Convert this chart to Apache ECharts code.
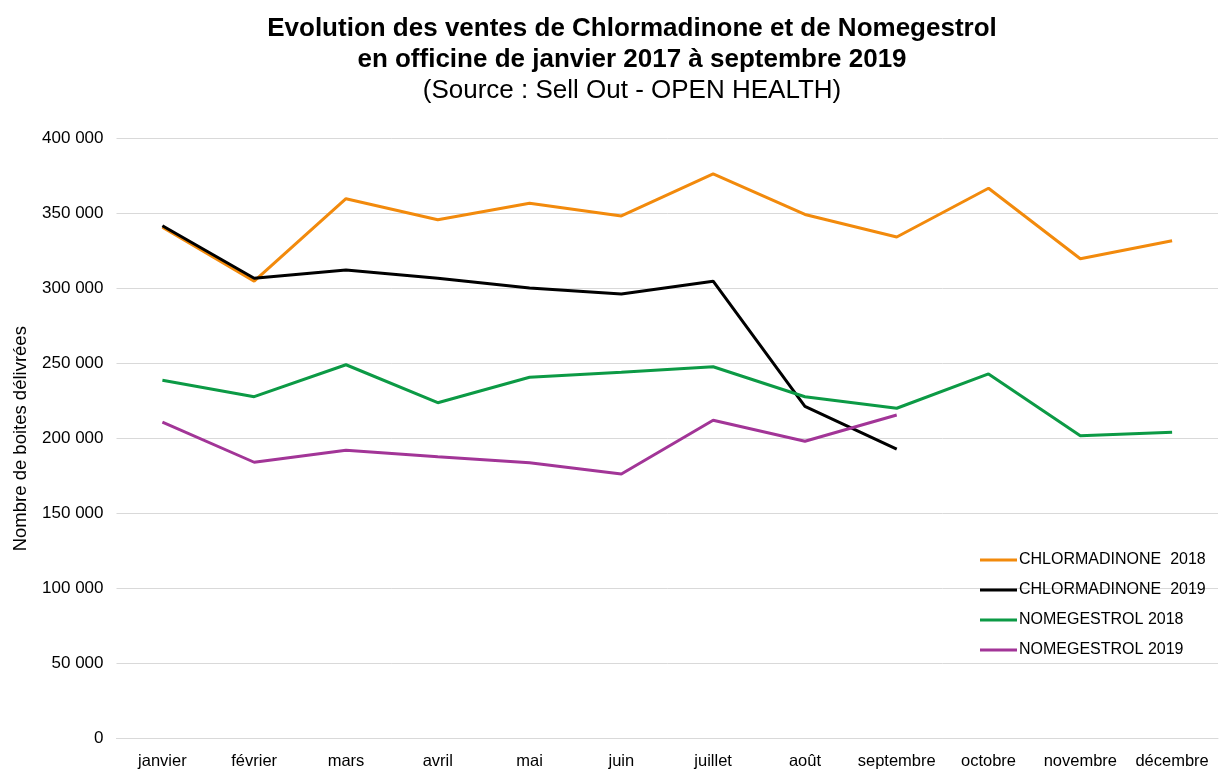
<!DOCTYPE html>
<html>
<head>
<meta charset="utf-8">
<script src="https://cdn.jsdelivr.net/npm/echarts@6/dist/echarts.min.js"></script>
<style>
  html, body { margin: 0; padding: 0; background: #fff; }
  #chart { width: 1221px; height: 769px; }
</style>
</head>
<body>
<div id="chart"></div>
<script>
// mois (axe des abscisses)
const months = ['janvier', 'février', 'mars', 'avril', 'mai', 'juin', 'juillet', 'août', 'septembre', 'octobre', 'novembre', 'décembre']

// ventes en boites délivrées
const chlormadinone2018 = [341000, 305000, 360000, 346000, 357000, 348500, 376500, 349500, 334500, 367000, 320000, 332000]
const chlormadinone2019 = [342000, 307000, 312500, 307000, 300500, 296500, 305000, 221500, 193000]
const nomegestrol2018 = [239000, 228000, 249300, 224000, 241000, 244300, 248000, 228000, 220300, 243200, 202000, 204300]
const nomegestrol2019 = [211000, 184300, 192300, 188000, 184000, 176500, 212300, 198300, 215800]

const chart = echarts.init(document.getElementById('chart'))

const fontFamily = '"Liberation Sans", Arial, sans-serif'

const makeLine = (name, data, color) => ({
  name,
  type: 'line',
  data,
  symbol: 'none',
  lineStyle: { color, width: 3 },
  itemStyle: { color },
  emphasis: { disabled: true }
})

const option = {
  animation: false,
  textStyle: { fontFamily },
  title: {
    text: 'Evolution des ventes de Chlormadinone et de Nomegestrol\nen officine de janvier 2017 à septembre 2019',
    subtext: '(Source : Sell Out - OPEN HEALTH)',
    left: 627,
    textAlign: 'center',
    top: 8,
    itemGap: 0,
    textStyle: { fontSize: 26, fontWeight: 'bold', color: '#000', lineHeight: 31, fontFamily },
    subtextStyle: { fontSize: 26, color: '#000', lineHeight: 31, fontFamily }
  },
  legend: {
    orient: 'vertical',
    left: 975,
    top: 546,
    icon: 'rect',
    itemWidth: 37,
    itemHeight: 3,
    itemGap: 12,
    textStyle: { fontSize: 16, lineHeight: 18, color: '#000', padding: [0, 0, 0, -3] },
    data: ['CHLORMADINONE  2018', 'CHLORMADINONE  2019', 'NOMEGESTROL 2018', 'NOMEGESTROL 2019']
  },
  grid: {
    left: 116.5,
    right: 3,
    top: 138.7,
    bottom: 30.3,
    containLabel: false,
    outerBoundsMode: 'none'
  },
  xAxis: {
    type: 'category',
    data: months,
    boundaryGap: true,
    axisLine: { show: true, lineStyle: { color: '#d9d9d9', width: 1 } },
    axisTick: { show: false },
    axisLabel: { fontSize: 16.5, color: '#000', margin: 14, interval: 0 }
  },
  yAxis: {
    type: 'value',
    min: 0,
    max: 400000,
    interval: 50000,
    name: 'Nombre de boites délivrées',
    nameLocation: 'middle',
    nameRotate: 90,
    nameGap: 86,
    nameTextStyle: { fontSize: 18.5, color: '#000' },
    axisLine: { show: false },
    axisTick: { show: false },
    axisLabel: {
      fontSize: 17,
      color: '#000',
      margin: 13,
      formatter: v => String(v).replace(/\B(?=(\d{3})+(?!\d))/g, ' ')
    },
    splitLine: { lineStyle: { color: '#d9d9d9', width: 1 } }
  },
  series: [
    makeLine('CHLORMADINONE  2018', chlormadinone2018, '#f28a0c'),
    makeLine('CHLORMADINONE  2019', chlormadinone2019, '#000000'),
    makeLine('NOMEGESTROL 2018', nomegestrol2018, '#0c9a45'),
    makeLine('NOMEGESTROL 2019', nomegestrol2019, '#a23597')
  ]
}

chart.setOption(option)
</script>
</body>
</html>
